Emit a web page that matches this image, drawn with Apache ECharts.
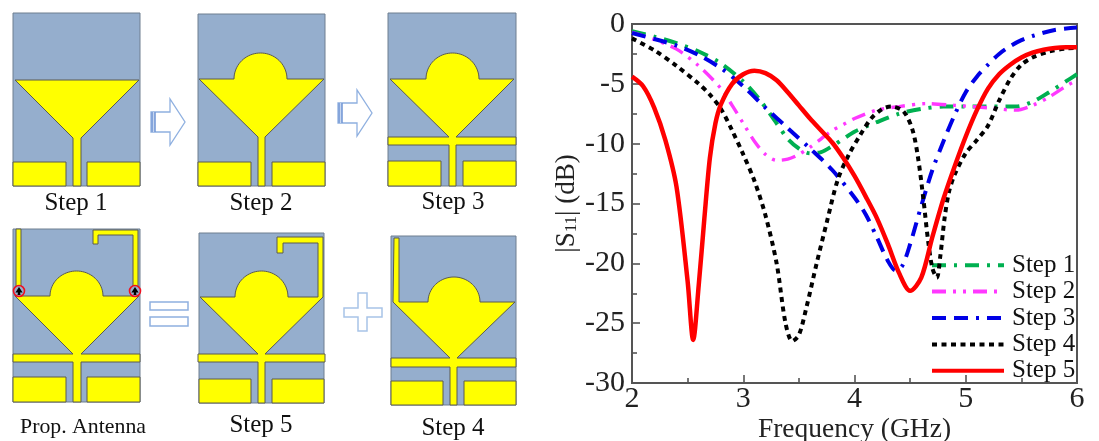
<!DOCTYPE html>
<html>
<head>
<meta charset="utf-8">
<style>html,body{margin:0;padding:0;background:#fff}#c{width:1099px;height:441px}</style>
<script src="https://cdn.jsdelivr.net/npm/echarts@6/dist/echarts.min.js"></script>
</head>
<body>
<div id="c"></div>
<script>
const seriesNames = ['Step 1','Step 2','Step 3','Step 4','Step 5'];
const step1 = [[2,-0.6],[2.2,-1.05],[2.4,-1.6],[2.6,-2.3],[2.8,-3.3],[3,-4.8],[3.15,-6.35],[3.3,-8.3],[3.4,-9.6],[3.5,-10.4],[3.6,-10.8],[3.7,-10.7],[3.8,-10.2],[3.9,-9.6],[4,-9],[4.2,-8.2],[4.4,-7.5],[4.6,-7.1],[4.8,-6.9],[5.1,-6.9],[5.45,-6.9],[5.6,-6.5],[5.75,-5.7],[5.9,-4.8],[6,-4.2]];
const step2 = [[2,-0.7],[2.2,-1.3],[2.4,-2.1],[2.6,-3.5],[2.8,-5.4],[2.9,-6.8],[3,-8.3],[3.1,-9.8],[3.2,-10.9],[3.3,-11.4],[3.4,-11.3],[3.5,-10.9],[3.6,-10.3],[3.7,-9.6],[3.8,-8.9],[3.9,-8.4],[4,-7.9],[4.2,-7.2],[4.4,-6.9],[4.65,-6.65],[4.9,-6.8],[5.2,-7],[5.45,-7.2],[5.6,-6.8],[5.75,-6.1],[5.9,-5.2],[6,-4.7]];
const step3 = [[2,-0.75],[2.2,-1.25],[2.4,-1.8],[2.6,-2.6],[2.8,-3.7],[3,-5.2],[3.2,-7],[3.4,-8.7],[3.6,-10.4],[3.8,-12.2],[4,-14.5],[4.1,-15.9],[4.2,-17.8],[4.3,-19.8],[4.37,-20.6],[4.43,-20.2],[4.5,-18.4],[4.6,-15.2],[4.7,-12.2],[4.8,-9.8],[4.9,-7.6],[5,-5.7],[5.1,-4.4],[5.2,-3.4],[5.3,-2.5],[5.4,-1.85],[5.5,-1.35],[5.6,-1],[5.8,-0.5],[6,-0.3]];
const step4 = [[2,-1.2],[2.2,-2.2],[2.4,-3.5],[2.6,-5],[2.7,-5.9],[2.8,-7.1],[2.9,-8.9],[3,-10.9],[3.1,-13.1],[3.2,-16],[3.3,-20],[3.38,-25],[3.44,-26.5],[3.5,-26],[3.57,-23.6],[3.66,-20],[3.75,-16.6],[3.85,-13],[3.95,-10.9],[4.05,-9.3],[4.15,-7.9],[4.25,-7.1],[4.33,-6.9],[4.44,-7.3],[4.52,-8.8],[4.57,-11.1],[4.62,-14.7],[4.66,-18],[4.7,-20.4],[4.74,-21.2],[4.77,-19.5],[4.81,-16.2],[4.85,-14],[4.9,-12.6],[5,-10.8],[5.1,-9.7],[5.2,-8.5],[5.3,-6.4],[5.4,-4.6],[5.5,-3.4],[5.6,-2.8],[5.75,-2.3],[5.9,-2.05],[6,-2]];
const step5 = [[2,-4.4],[2.1,-5.2],[2.2,-7],[2.3,-9.7],[2.4,-13.6],[2.5,-21.5],[2.55,-26.4],[2.6,-21.8],[2.65,-16.3],[2.7,-11.2],[2.75,-8.3],[2.8,-6.7],[2.9,-5],[3,-4.2],[3.1,-3.9],[3.2,-4.1],[3.3,-4.7],[3.4,-5.7],[3.5,-6.8],[3.6,-7.9],[3.7,-8.9],[3.8,-9.9],[3.9,-11.2],[4,-12.7],[4.1,-14.4],[4.2,-16.2],[4.3,-18.4],[4.4,-20.8],[4.5,-22.3],[4.6,-21.2],[4.7,-17.8],[4.8,-14.6],[4.9,-11.9],[5,-9.4],[5.1,-7.2],[5.2,-5.4],[5.3,-4.2],[5.4,-3.4],[5.5,-2.8],[5.6,-2.4],[5.7,-2.15],[5.8,-2],[5.9,-1.95],[6,-1.95]];
const seriesValues = [step1, step2, step3, step4, step5];
const captions = [
  ['Step 1',76,203,25],['Step 2',261,203,25],['Step 3',453,202,25],
  ['Prop. Antenna',83,427,21.8],['Step 5',261,425,25],['Step 4',453,428,25]
];

const FONT = '"Liberation Serif","Times New Roman",serif';
const SUB = '#95aecd', YEL = '#ffff00', EDGE = '#5a5a50';
const ARROW = '#8fb0e0';
const g = [];
function rect(x0,y0,x1,y1,fill,stroke,lw){
  g.push({type:'rect',silent:true,shape:{x:x0,y:y0,width:x1-x0,height:y1-y0},style:{fill:fill,stroke:stroke||null,lineWidth:lw||1}});
}
function poly(pts,fill,stroke,lw){
  g.push({type:'polygon',silent:true,shape:{points:pts},style:{fill:fill,stroke:stroke,lineWidth:lw||1,lineJoin:'miter'}});
}
function antenna(o){
  rect(o.x0,o.y0,o.x1,o.y1,SUB,'#6f7f90',1);
  if(o.gy){
    rect(o.x0,o.gy,o.gl,o.y1,YEL,EDGE,1);
    rect(o.gr,o.gy,o.x1,o.y1,YEL,EDGE,1);
  }
  const p=[];
  p.push([o.tl,o.ty]);
  if(o.leftStrip) o.leftStrip.forEach(a=>p.push(a));
  if(o.dome){
    const cx=(o.dome[0]+o.dome[1])/2, rx=(o.dome[1]-o.dome[0])/2, ry=o.ty-o.dome[2];
    for(let i=0;i<=40;i++){
      const t=Math.PI-Math.PI*i/40;
      p.push([cx+rx*Math.cos(t),o.ty-ry*Math.sin(t)]);
    }
  }
  if(o.meander) o.meander.forEach(a=>p.push(a));
  p.push([o.tr,o.ty]);
  p.push([o.fr,o.ay]);
  if(o.bar){
    p.push([o.bar[1],o.ay],[o.bar[1],o.ay+o.bar[2]],[o.fr,o.ay+o.bar[2]]);
  }
  p.push([o.fr,o.y1],[o.fl,o.y1]);
  if(o.bar){
    p.push([o.fl,o.ay+o.bar[2]],[o.bar[0],o.ay+o.bar[2]],[o.bar[0],o.ay]);
  }
  p.push([o.fl,o.ay]);
  poly(p,YEL,EDGE,1);
}
const panels = [
 {x0:13,y0:13,x1:140,y1:186,tl:15,tr:139,ty:80,ay:138,fl:73,fr:81,gy:162,gl:66,gr:87},
 {x0:198,y0:14,x1:325,y1:186,tl:199,tr:324,ty:79,ay:137,fl:258,fr:265,gy:162,gl:251,gr:272,dome:[234,287,53]},
 {x0:388,y0:13,x1:516,y1:186,tl:390,tr:514,ty:79,ay:137,fl:449,fr:456,gy:161,gl:441,gr:463,dome:[426,479,53],bar:[388,516,8]},
 {x0:391,y0:236,x1:516,y1:405,tl:393,tr:515,ty:302,ay:358,fl:450,fr:457,gy:381,gl:443,gr:464,dome:[428,480,277],bar:[391,516,9],
  leftStrip:[[394,238],[399,238],[399,302]]},
 {x0:199,y0:233,x1:324,y1:403,tl:200,tr:323,ty:297,ay:354,fl:258,fr:265,gy:379,gl:251,gr:272,dome:[235,288,271],bar:[198,325,8],
  meander:[[318,297],[318,243],[283,243],[283,253],[277,253],[277,237],[323,237]]},
 {x0:13,y0:229,x1:140,y1:402,tl:15,tr:139,ty:296,ay:354,fl:73,fr:81,gy:377,gl:66,gr:87,dome:[50,103,271],bar:[13,140,8],
  leftStrip:[[16,291],[16,229],[21,229],[21,296]],
  meander:[[133,296],[133,235],[98,235],[98,244],[93,244],[93,230],[138,230],[138,296]]}
];
panels.forEach(antenna);
// feed pins on the proposed antenna
[[19,291],[135,291]].forEach(c=>{
  g.push({type:'circle',silent:true,shape:{cx:c[0],cy:c[1],r:5.5},style:{fill:SUB,stroke:'#f01020',lineWidth:1.6}});
  g.push({type:'polygon',silent:true,shape:{points:[[c[0],c[1]-4],[c[0]+3.6,c[1]+1.5],[c[0]+1,c[1]+1.5],[c[0]+1.5,c[1]+4],[c[0]-1.5,c[1]+4],[c[0]-1,c[1]+1.5],[c[0]-3.6,c[1]+1.5]]},style:{fill:'#000'}});
});
// arrows
function arrow(x0,xh,x1,ytop,ybot,ys0,ys1){
  poly([[x0,ys0],[xh,ys0],[xh,ytop],[x1,(ytop+ybot)/2],[xh,ybot],[xh,ys1],[x0,ys1]],'#fff',ARROW,1.3);
  rect(x0,ys0,x0+4,ys1,'#c6d6f0',null);
  g.push({type:'line',silent:true,shape:{x1:x0+1,y1:ys0,x2:x0+1,y2:ys1},style:{stroke:'#6f94d4',lineWidth:1.5}});
  g.push({type:'line',silent:true,shape:{x1:x0+4,y1:ys0,x2:x0+4,y2:ys1},style:{stroke:'#6f94d4',lineWidth:1.5}});
}
arrow(151,170,185,99,145,112,132);
arrow(338,357,372,90,136,103,123);
rect(150,302,188,310,'#fff',ARROW,1.5);
rect(150,317,188,326,'#fff',ARROW,1.5);
poly([[358,293],[367,293],[367,308],[382,308],[382,317],[367,317],[367,331],[358,331],[358,317],[344,317],[344,308],[358,308]],'#fff','#a8c4e8',1.5);
captions.forEach(c=>{
  g.push({type:'text',silent:true,style:{text:c[0],x:c[1],y:c[2],align:'center',verticalAlign:'middle',font:c[3]+'px '+FONT,fill:'#111'}});
});

const styles = [
  {color:'#00b050',width:4,type:[14,8,3,8]},
  {color:'#ff38ff',width:3.4,type:[14,7,3,7,3,7]},
  {color:'#0000e6',width:4,type:[14,8,14,8,3,8]},
  {color:'#000000',width:4,type:[5,4.5]},
  {color:'#ff0000',width:4.5,type:'solid'}
];
const axisColor = '#555';
const chart = echarts.init(document.getElementById('c'),null,{renderer:'canvas'});
chart.setOption({
  animation:false,
  backgroundColor:'#fff',
  textStyle:{fontFamily:FONT},
  grid:{left:632,right:22,top:24,bottom:58,outerBoundsMode:'none',show:true,borderColor:axisColor,borderWidth:2,backgroundColor:'transparent'},
  legend:{
    show:true,orient:'vertical',left:930,top:252,itemWidth:72,itemHeight:14,itemGap:0,
    padding:0,itemStyle:{opacity:0},lineStyle:{width:4},
    textStyle:{fontFamily:FONT,fontSize:25,color:'#111',height:26.4,lineHeight:26.4,padding:[0,0,0,3]},
    data:seriesNames
  },
  xAxis:{
    type:'value',min:2,max:6,interval:1,
    name:'Frequency (GHz)',nameLocation:'middle',nameGap:33,nameMoveOverlap:false,
    nameTextStyle:{fontFamily:FONT,fontSize:27.5,color:'#222'},
    axisLine:{onZero:false,lineStyle:{color:axisColor,width:2}},
    axisTick:{inside:true,length:8,lineStyle:{color:axisColor,width:1.6}},
    minorTick:{show:true,splitNumber:2,length:5,lineStyle:{color:axisColor,width:1.6}},
    splitLine:{show:false},
    axisLabel:{fontFamily:FONT,fontSize:30,color:'#222',margin:1,showMaxLabel:true,showMinLabel:true},
  },
  yAxis:{
    type:'value',min:-30,max:0,interval:5,
    name:'{a||S}{s|11}{a|| (dB)}',nameLocation:'middle',nameGap:52,nameRotate:90,nameMoveOverlap:false,
    nameTextStyle:{rich:{a:{fontFamily:FONT,fontSize:27,color:'#222'},s:{fontFamily:FONT,fontSize:17,color:'#222',verticalAlign:'bottom',padding:[10,0,0,0]}}},
    axisLine:{onZero:false,lineStyle:{color:axisColor,width:2}},
    axisTick:{inside:true,length:8,lineStyle:{color:axisColor,width:1.6}},
    minorTick:{show:true,splitNumber:2,length:5,lineStyle:{color:axisColor,width:1.6}},
    splitLine:{show:false},
    axisLabel:{fontFamily:FONT,fontSize:30,color:'#222',margin:7,showMaxLabel:true,showMinLabel:true},
  },
  series:seriesNames.map((n,i)=>({
    name:n,type:'line',data:seriesValues[i],smooth:0.3,symbol:'none',showSymbol:false,
    lineStyle:{color:styles[i].color,width:styles[i].width,type:styles[i].type},
    itemStyle:{color:styles[i].color},clip:true,z:2+i
  })),
  graphic:{elements:g}
});
</script>
</body>
</html>
